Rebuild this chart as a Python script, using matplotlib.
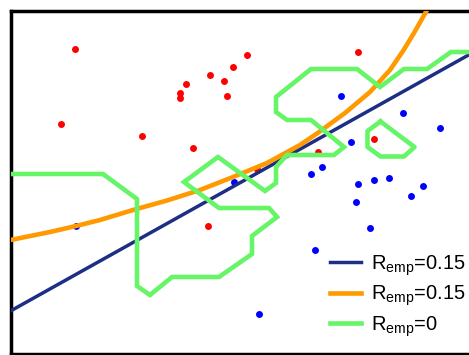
import matplotlib.pyplot as plt

plt.rcParams['font.family'] = ['Liberation Sans', 'DejaVu Sans']
plt.rcParams['mathtext.fontset'] = 'custom'
plt.rcParams['mathtext.rm'] = 'Liberation Sans'

# data (in picture units)
red_x = [74.7, 61, 142.3, 193, 186.3, 180.3, 180.3, 210.3, 224, 226.7, 232.7,
         247.3, 357.7, 318.3, 374, 257.3, 208.3]
red_y = [48.7, 123.7, 136.3, 148, 84.3, 93, 98, 75, 81.3, 95.7, 67.3,
         55.3, 52, 152.3, 138.7, 168.7, 225.7]

blue_x = [340.7, 403.3, 440.3, 351, 322.3, 311.3, 374.3, 389.3, 358, 423.3,
          411, 356, 370, 314.7, 259, 234.3, 76]
blue_y = [95.5, 112.7, 128.3, 141.7, 167, 174.3, 180.2, 177.5, 184, 186,
          196.3, 202, 228.3, 250.3, 313.7, 181.7, 225.7]

# linear boundary
lin_x = [10.5, 480]
lin_y = [311, 48.6]

# curved boundary
curve_x = [10.5, 50, 76, 100, 133, 167, 200, 233, 267, 300, 317, 345, 370,
           390, 403, 414, 427]
curve_y = [240, 232, 226, 220, 210, 200.5, 190, 177, 163, 145, 133.5, 113, 92,
           70, 51, 33, 10]

# zero-error boundary (one open piece and one closed loop)
big_x = [10, 103, 137, 137, 150, 172, 219, 252, 252, 277, 269, 219, 184, 218,
         265, 276, 276, 287, 334, 344, 311, 287, 276, 276, 311, 357, 380, 404,
         427, 451, 480]
big_y = [174, 174, 199, 286, 295, 277, 277, 254, 236, 217, 208, 208, 182, 157,
         191, 183, 167, 155, 155, 147, 120, 120, 112, 97, 69, 69, 87, 69,
         69, 52, 52]
loop_x = [380.5, 414.5, 404, 380.5, 367.5, 367.5, 380.5]
loop_y = [121.5, 147, 156.5, 156.5, 147, 131, 121.5]

labels = [r'R$_{\mathrm{emp}}$=0.15', r'R$_{\mathrm{emp}}$=0.15', r'R$_{\mathrm{emp}}$=0']

fig = plt.figure(figsize=(4.69, 3.55), dpi=100)
ax = fig.add_axes([10.5 / 469, 1.5 / 355, (480 - 10.5) / 469, (353.5 - 10.5) / 355])

ax.plot(lin_x, lin_y, color='#1c2f85', lw=2.5, label=labels[0], zorder=3)
ax.plot(curve_x, curve_y, color='#ff9900', lw=3.3, label=labels[1], zorder=3)
ax.plot(big_x, big_y, color='#66f566', lw=3.3, label=labels[2], zorder=4,
        solid_joinstyle='miter')
ax.plot(loop_x, loop_y, color='#66f566', lw=3.3, zorder=4)

ax.plot(red_x, red_y, 'o', color='#ff0000', ms=5, mec='none', zorder=2)
ax.plot(blue_x, blue_y, 'o', color='#0000ff', ms=5, mec='none', zorder=2)

ax.set_xlim(10.5, 480)
ax.set_ylim(353.5, 10.5)
ax.set_xticks([])
ax.set_yticks([])
ax.spines['right'].set_visible(False)
for s in ['left', 'top', 'bottom']:
    ax.spines[s].set_linewidth(2.5)

ax.legend(loc='lower left', bbox_to_anchor=(0.655, 0.008), frameon=False,
          fontsize=14.5, handlelength=1.55, handletextpad=0.5, labelspacing=0.3,
          borderaxespad=0.2)

fig.savefig('out.png', dpi=100)
